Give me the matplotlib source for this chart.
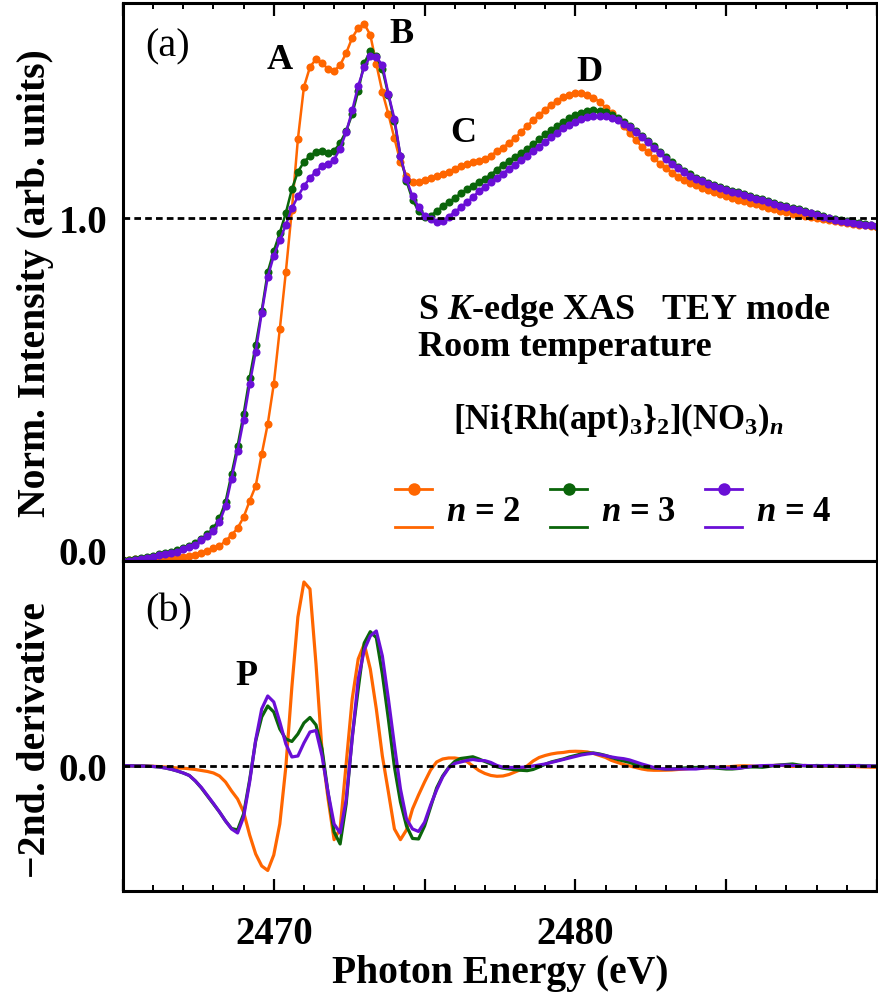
import numpy as np
import matplotlib
matplotlib.use("Agg")
import matplotlib.pyplot as plt
from matplotlib.lines import Line2D
from matplotlib.legend_handler import HandlerBase
from matplotlib.ticker import MultipleLocator, FuncFormatter

plt.rcParams["font.family"] = ["Liberation Serif", "DejaVu Serif"]
plt.rcParams["font.weight"] = "bold"
plt.rcParams["axes.labelweight"] = "bold"
plt.rcParams["mathtext.fontset"] = "custom"
plt.rcParams["mathtext.rm"] = "Liberation Serif:bold"
plt.rcParams["mathtext.it"] = "Liberation Serif:italic:bold"
plt.rcParams["mathtext.bf"] = "Liberation Serif:bold"

# photon energy grid (eV), 0.2 eV steps
energy = np.round(np.arange(2465.0, 2490.01, 0.2), 1)

# normalized S K-edge XAS (TEY)
xas_n2 = [
    -0.029, -0.029, -0.028, -0.028, -0.027, -0.027, -0.027, -0.026, -0.025, -0.024,
    -0.021, -0.018, -0.014, -0.008, -0.002, 0.006, 0.012, 0.027, 0.045, 0.066,
    0.099, 0.148, 0.193, 0.289, 0.380, 0.500, 0.666, 0.838, 1.025, 1.239,
    1.396, 1.456, 1.480, 1.468, 1.450, 1.444, 1.462, 1.498, 1.544, 1.574,
    1.586, 1.553, 1.465, 1.381, 1.314, 1.241, 1.170, 1.128, 1.109, 1.109,
    1.115, 1.121, 1.127, 1.133, 1.140, 1.149, 1.158, 1.164, 1.170, 1.174,
    1.179, 1.188, 1.203, 1.213, 1.227, 1.242, 1.260, 1.278, 1.296, 1.311,
    1.327, 1.342, 1.354, 1.366, 1.373, 1.378, 1.378, 1.372, 1.364, 1.351,
    1.334, 1.317, 1.299, 1.278, 1.257, 1.236, 1.216, 1.200, 1.182, 1.165,
    1.152, 1.138, 1.126, 1.115, 1.106, 1.099, 1.091, 1.084, 1.078, 1.072,
    1.066, 1.061, 1.055, 1.051, 1.046, 1.042, 1.036, 1.031, 1.027, 1.022,
    1.019, 1.014, 1.011, 1.008, 1.004, 1.001, 0.998, 0.995, 0.992, 0.990,
    0.987, 0.984, 0.981, 0.980, 0.977, 0.974,
]
xas_n3 = [
    -0.030, -0.029, -0.027, -0.024, -0.021, -0.017, -0.012, -0.009, -0.005, 0.000,
    0.006, 0.012, 0.021, 0.033, 0.048, 0.066, 0.096, 0.145, 0.229, 0.314,
    0.410, 0.519, 0.618, 0.721, 0.838, 0.901, 0.956, 1.016, 1.088, 1.140,
    1.170, 1.188, 1.200, 1.203, 1.198, 1.203, 1.227, 1.263, 1.314, 1.384,
    1.468, 1.504, 1.489, 1.450, 1.372, 1.293, 1.188, 1.112, 1.056, 1.022,
    1.005, 1.008, 1.021, 1.036, 1.048, 1.061, 1.075, 1.087, 1.097, 1.109,
    1.119, 1.132, 1.146, 1.161, 1.173, 1.185, 1.197, 1.209, 1.223, 1.238,
    1.253, 1.266, 1.278, 1.290, 1.301, 1.310, 1.317, 1.323, 1.325, 1.323,
    1.319, 1.311, 1.301, 1.289, 1.277, 1.264, 1.249, 1.234, 1.217, 1.201,
    1.184, 1.169, 1.156, 1.144, 1.133, 1.122, 1.115, 1.107, 1.100, 1.094,
    1.089, 1.083, 1.079, 1.074, 1.068, 1.062, 1.058, 1.052, 1.046, 1.041,
    1.036, 1.031, 1.027, 1.022, 1.017, 1.012, 1.007, 1.002, 0.997, 0.994,
    0.991, 0.988, 0.985, 0.982, 0.980, 0.978,
]
xas_n4 = [
    -0.032, -0.032, -0.030, -0.027, -0.024, -0.020, -0.015, -0.012, -0.009, -0.005,
    0.002, 0.008, 0.015, 0.029, 0.042, 0.057, 0.084, 0.132, 0.215, 0.300,
    0.392, 0.500, 0.597, 0.715, 0.823, 0.887, 0.934, 0.980, 1.030, 1.066,
    1.097, 1.122, 1.141, 1.157, 1.163, 1.177, 1.210, 1.260, 1.325, 1.400,
    1.455, 1.488, 1.486, 1.462, 1.375, 1.300, 1.188, 1.117, 1.066, 1.035,
    1.008, 0.998, 0.990, 0.993, 1.005, 1.019, 1.033, 1.048, 1.063, 1.082,
    1.095, 1.108, 1.123, 1.135, 1.149, 1.162, 1.176, 1.189, 1.203, 1.216,
    1.230, 1.245, 1.257, 1.271, 1.280, 1.290, 1.299, 1.304, 1.307, 1.308,
    1.307, 1.302, 1.295, 1.284, 1.274, 1.260, 1.245, 1.230, 1.213, 1.197,
    1.180, 1.165, 1.152, 1.140, 1.129, 1.118, 1.111, 1.103, 1.096, 1.090,
    1.085, 1.079, 1.075, 1.070, 1.064, 1.058, 1.054, 1.048, 1.042, 1.037,
    1.033, 1.028, 1.024, 1.019, 1.015, 1.010, 1.005, 1.001, 0.996, 0.993,
    0.990, 0.987, 0.984, 0.981, 0.980, 0.978,
]

# -2nd derivative (arbitrary units)
d2_n2 = [
    0.000, -0.001, -0.003, -0.003, -0.005, -0.006, -0.009, -0.013, -0.018, -0.023,
    -0.025, -0.031, -0.038, -0.048, -0.058, -0.073, -0.103, -0.163, -0.253, -0.333,
    -0.463, -0.693, -0.883, -1.003, -1.048, -0.893, -0.583, -0.013, 0.787, 1.487,
    1.837, 1.767, 1.017, 0.147, -0.330, -0.740, -0.630, 0.017, 0.667, 1.067,
    1.217, 0.967, 0.567, 0.097, -0.263, -0.633, -0.740, -0.643, -0.433, -0.293,
    -0.163, -0.043, 0.037, 0.067, 0.077, 0.077, 0.067, 0.042, -0.003, -0.048,
    -0.078, -0.098, -0.106, -0.103, -0.088, -0.063, -0.038, -0.003, 0.047, 0.082,
    0.102, 0.117, 0.127, 0.132, 0.142, 0.144, 0.142, 0.137, 0.122, 0.102,
    0.082, 0.052, 0.032, 0.012, -0.003, -0.018, -0.033, -0.043, -0.046, -0.046,
    -0.045, -0.043, -0.038, -0.033, -0.028, -0.026, -0.023, -0.021, -0.018, -0.016,
    -0.013, -0.008, -0.003, -0.001, -0.003, -0.008, -0.005, -0.001, 0.002, 0.004,
    -0.003, -0.008, -0.003, 0.002, -0.001, -0.006, -0.008, -0.003, -0.006, -0.009,
    -0.006, -0.008, -0.011, -0.013, -0.015, -0.016,
]
d2_n3 = [
    0.000, -0.001, -0.003, -0.003, -0.005, -0.008, -0.013, -0.023, -0.036, -0.053,
    -0.073, -0.098, -0.153, -0.223, -0.303, -0.383, -0.463, -0.553, -0.628, -0.643,
    -0.483, -0.143, 0.247, 0.487, 0.597, 0.537, 0.367, 0.267, 0.242, 0.317,
    0.427, 0.482, 0.407, 0.167, -0.273, -0.663, -0.783, -0.383, 0.287, 0.767,
    1.227, 1.340, 1.280, 0.917, 0.467, -0.013, -0.363, -0.603, -0.728, -0.733,
    -0.603, -0.413, -0.223, -0.103, -0.018, 0.042, 0.072, 0.080, 0.089, 0.067,
    0.042, 0.017, -0.011, -0.025, -0.033, -0.041, -0.046, -0.050, -0.038, -0.013,
    0.014, 0.037, 0.052, 0.067, 0.087, 0.102, 0.117, 0.124, 0.127, 0.117,
    0.102, 0.082, 0.062, 0.047, 0.032, 0.012, -0.008, -0.018, -0.023, -0.028,
    -0.033, -0.033, -0.028, -0.023, -0.018, -0.018, -0.016, -0.018, -0.023, -0.028,
    -0.033, -0.033, -0.028, -0.018, -0.013, -0.013, -0.016, -0.008, 0.002, 0.007,
    0.012, 0.017, 0.007, -0.001, -0.003, 0.002, -0.001, -0.003, 0.002, -0.001,
    -0.003, 0.000, 0.002, -0.001, -0.003, -0.003,
]
d2_n4 = [
    0.000, -0.001, -0.003, -0.003, -0.005, -0.008, -0.013, -0.023, -0.036, -0.053,
    -0.073, -0.098, -0.153, -0.218, -0.298, -0.378, -0.463, -0.553, -0.633, -0.673,
    -0.513, -0.163, 0.257, 0.567, 0.697, 0.637, 0.437, 0.217, 0.087, 0.097,
    0.227, 0.337, 0.352, 0.097, -0.268, -0.583, -0.673, -0.343, 0.267, 0.867,
    1.157, 1.297, 1.347, 1.097, 0.667, 0.207, -0.233, -0.533, -0.633, -0.658,
    -0.566, -0.393, -0.243, -0.113, -0.023, 0.022, 0.037, 0.052, 0.062, 0.052,
    0.050, 0.032, 0.002, -0.016, -0.018, -0.018, -0.016, -0.013, -0.003, 0.007,
    0.017, 0.032, 0.047, 0.062, 0.077, 0.092, 0.107, 0.117, 0.124, 0.112,
    0.100, 0.087, 0.077, 0.070, 0.057, 0.037, 0.017, 0.000, -0.018, -0.028,
    -0.033, -0.033, -0.033, -0.033, -0.033, -0.033, -0.026, -0.020, -0.016, -0.018,
    -0.023, -0.026, -0.026, -0.018, -0.008, -0.003, 0.000, 0.002, 0.002, 0.004,
    0.007, 0.002, 0.000, 0.002, 0.000, -0.003, 0.000, 0.002, -0.001, -0.003,
    0.000, 0.002, -0.001, -0.003, -0.003, -0.003,
]

labels = ["$n$ = 2", "$n$ = 3", "$n$ = 4"]
colors = ["#ff6600", "#0a650a", "#6a0fd6"]


class TwoRowHandler(HandlerBase):
    """Legend key: line with dot on top, plain line below."""
    def create_artists(self, legend, orig_handle, xdescent, ydescent,
                       width, height, fontsize, trans):
        c = orig_handle.get_color()
        ymid = (height - ydescent) / 2
        off = 0.55 * fontsize
        x0, x1 = -xdescent, width - xdescent
        top = Line2D([x0, x1], [ymid + off] * 2, color=c, lw=2.0)
        dot = Line2D([(x0 + x1) / 2], [ymid + off], color=c, marker="o",
                     ms=9, mec="none", ls="none")
        bot = Line2D([x0, x1], [ymid - off] * 2, color=c, lw=2.0)
        for a in (top, dot, bot):
            a.set_transform(trans)
        return [top, dot, bot]


fig = plt.figure(figsize=(8.79, 10.03), dpi=100)
ax1 = fig.add_axes([0.1399, 0.4397, 0.8578, 0.5563])
ax2 = fig.add_axes([0.1399, 0.1107, 0.8578, 0.3290])

# (a) XAS
handles = []
for y, c, lab in zip([xas_n2, xas_n3, xas_n4], colors, labels):
    h, = ax1.plot(energy, y, "-o", color=c, lw=1.8, ms=5.8, mec="none", label=lab)
    handles.append(h)
ax1.axhline(1.0, color="black", lw=2.0, ls=(0, (2.4, 1.5)), zorder=5)
ax1.set_xlim(2465, 2490)
ax1.set_ylim(-0.033, 1.649)

# (b) -2nd derivative
for y, c in zip([d2_n2, d2_n3, d2_n4], colors):
    ax2.plot(energy, y, "-", color=c, lw=2.3)
ax2.axhline(0.0, color="black", lw=2.0, ls=(0, (2.4, 1.5)), zorder=5)
ax2.set_xlim(2465, 2490)
ax2.set_ylim(-1.253, 2.047)

for ax in (ax1, ax2):
    for sp in ax.spines.values():
        sp.set_linewidth(2.2)
    ax.xaxis.set_major_locator(MultipleLocator(5))
    ax.xaxis.set_minor_locator(MultipleLocator(1))
    ax.tick_params(axis="x", which="major", direction="in", length=9, width=1.6)
    ax.tick_params(axis="x", which="minor", direction="in", length=4.5, width=1.4)
    ax.tick_params(axis="y", which="both", length=0, pad=11, labelsize=28)

ax1.tick_params(axis="x", which="both", top=True, bottom=False,
                labeltop=False, labelbottom=False)
ax2.tick_params(axis="x", which="both", top=False, bottom=True,
                labelbottom=True, labelsize=28, pad=17)
ax2.xaxis.set_major_formatter(
    FuncFormatter(lambda v, p: f"{v:.0f}" if round(v) in (2470, 2480) else ""))

ax1.set_yticks([0.0, 1.0])
ax1.set_yticklabels(["0.0", "1.0"])
ax2.set_yticks([0.0])
ax2.set_yticklabels(["0.0"])

ax1.set_ylabel("Norm. Intensity (arb. units)", fontsize=28.5)
ax1.yaxis.set_label_coords(-0.092, 0.5)
ax2.set_ylabel("\u22122nd. derivative", fontsize=28.5)
ax2.yaxis.set_label_coords(-0.092, 0.46)
ax2.set_xlabel("Photon Energy (eV)", fontsize=28.5)
ax2.xaxis.set_label_coords(0.5, -0.19)

# annotations
ax1.text(2465.73, 1.519, "(a)", fontsize=29, fontweight="normal", va="center", ha="left")
ax2.text(2465.73, 1.55, "(b)", fontsize=29, fontweight="normal", va="center", ha="left")
for s, ex, ey in [("A", 2470.21, 1.480), ("B", 2474.22, 1.556),
                  ("C", 2476.27, 1.260), ("D", 2480.48, 1.444)]:
    ax1.text(ex, ey, s, fontsize=26, ha="center", va="center")
ax2.text(2469.08, 0.897, "P", fontsize=26, ha="center", va="center")

ax1.text(2474.78, 0.724, "S $K$-edge XAS   TEY mode", fontsize=26, va="center", ha="left")
ax1.text(2474.78, 0.615, "Room temperature", fontsize=26, va="center", ha="left")
ax1.text(2475.94, 0.395, "[Ni{Rh(apt)$_3$}$_2$](NO$_3$)$_n$", fontsize=25,
         va="center", ha="left")

ax1.legend(handles=handles, loc="center left", bbox_to_anchor=(0.361, 0.088),
           ncol=3, frameon=False, fontsize=25, handlelength=1.07,
           handletextpad=0.4, columnspacing=0.85, borderpad=0, borderaxespad=0,
           handler_map={Line2D: TwoRowHandler()})

fig.savefig("out.png", dpi=100)
